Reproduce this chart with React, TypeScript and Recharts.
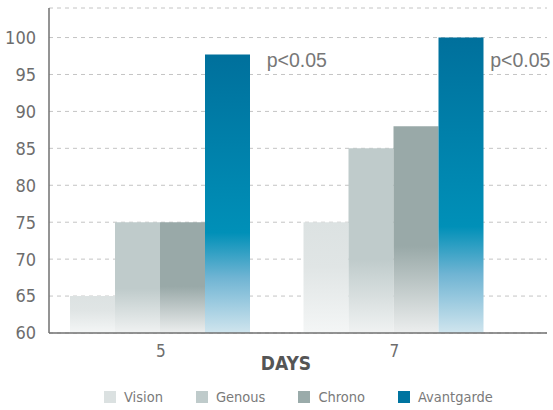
import React from 'react';
import {
  BarChart,
  Bar,
  XAxis,
  YAxis,
  CartesianGrid,
  Legend,
  ReferenceDot
} from 'recharts';

const days = ['5', '7'];
const vision = [65, 75];
const genous = [75, 85];
const chrono = [75, 88];
const avantgarde = [97.7, 100];
const yTicks = [60, 65, 70, 75, 80, 85, 90, 95, 100];
const sigDays = ['5', '7'];
const sigLevel = 97;
const sigText = 'p<0.05';

const chartData = days.map((day, i) => ({
  day,
  Vision: vision[i],
  Genous: genous[i],
  Chrono: chrono[i],
  Avantgarde: avantgarde[i]
}));

const NARROW = "'DejaVu Sans Condensed', 'Liberation Sans Narrow', 'Liberation Sans', sans-serif";
const REGULAR = "'Liberation Sans', Arial, sans-serif";

const series = [
  { key: 'Vision', grad: 'gradVision', swatch: '#dbe1e1' },
  { key: 'Genous', grad: 'gradGenous', swatch: '#bfcbcb' },
  { key: 'Chrono', grad: 'gradChrono', swatch: '#9aabaa' },
  { key: 'Avantgarde', grad: 'gradAvant', swatch: '#0074a0' }
];

const LegendContent = () => (
  <div style={{ display: 'flex', alignItems: 'center', fontFamily: NARROW, fontSize: 14.5, color: '#7a7a7a' }}>
    {series.map((s) => (
      <div key={s.key} style={{ display: 'flex', alignItems: 'center', marginRight: 33 }}>
        <span style={{ width: 12, height: 12, background: s.swatch, marginRight: 8, display: 'inline-block' }} />
        <span>{s.key}</span>
      </div>
    ))}
  </div>
);

export default function App() {
  return (
    <div style={{ position: 'absolute', left: 0, top: 0, width: 553, height: 410 }}>
      <BarChart
        width={553}
        height={410}
        data={chartData}
        margin={{ top: 8, right: 6, left: 0, bottom: 0 }}
        barCategoryGap={26}
        barGap={0}
      >
        <defs>
          <linearGradient id="gradVision" x1="0" y1="0" x2="0" y2="1">
            <stop offset="0" stopColor="#dce2e2" />
            <stop offset="0.4" stopColor="#e0e5e5" />
            <stop offset="1" stopColor="#f4f6f6" />
          </linearGradient>
          <linearGradient id="gradGenous" x1="0" y1="0" x2="0" y2="1">
            <stop offset="0" stopColor="#bfcbcb" />
            <stop offset="0.6" stopColor="#bfcbcb" />
            <stop offset="1" stopColor="#f0f2f2" />
          </linearGradient>
          <linearGradient id="gradChrono" x1="0" y1="0" x2="0" y2="1">
            <stop offset="0" stopColor="#99a9a8" />
            <stop offset="0.58" stopColor="#99a9a8" />
            <stop offset="1" stopColor="#eceeee" />
          </linearGradient>
          <linearGradient id="gradAvant" x1="0" y1="0" x2="0" y2="1">
            <stop offset="0" stopColor="#00709c" />
            <stop offset="0.64" stopColor="#0090b8" />
            <stop offset="0.8" stopColor="#6fb4d3" />
            <stop offset="1" stopColor="#d0e5ee" />
          </linearGradient>
        </defs>
        <CartesianGrid vertical={false} stroke="#c4c4c4" strokeDasharray="4 4" />
        <XAxis
          dataKey="day"
          height={77}
          padding={{ left: -5, right: 36 }}
          tickLine={false}
          tickSize={0}
          tickMargin={12}
          axisLine={{ stroke: '#707070', strokeWidth: 1.5 }}
          tick={{ fill: '#6d6d6d', fontSize: 17, fontFamily: NARROW }}
          label={{
            value: 'DAYS',
            position: 'insideBottom',
            offset: 40,
            dx: -12,
            fill: '#555',
            fontSize: 19,
            fontWeight: 'bold',
            fontFamily: NARROW
          }}
        />
        <YAxis
          width={49}
          domain={[60, 104]}
          ticks={yTicks}
          allowDataOverflow
          tickLine={false}
          tickSize={0}
          tickMargin={13}
          axisLine={{ stroke: '#707070', strokeWidth: 1.5 }}
          tick={{ fill: '#6d6d6d', fontSize: 18, fontFamily: NARROW }}
        />
        {series.map((s) => (
          <Bar key={s.key} dataKey={s.key} fill={`url(#${s.grad})`} isAnimationActive={false} />
        ))}
        {sigDays.map((d, i) => (
          <ReferenceDot
            key={d}
            x={d}
            y={sigLevel}
            r={0}
            ifOverflow="visible"
            label={{
              value: sigText,
              position: 'right',
              offset: i === 0 ? 106 : 96,
              fill: '#777',
              fontSize: 19.5,
              fontFamily: REGULAR
            }}
          />
        ))}
        <Legend
          verticalAlign="middle"
          layout="horizontal"
          wrapperStyle={{ top: 389, left: 104, width: 449, height: 18 }}
          content={<LegendContent />}
        />
      </BarChart>
    </div>
  );
}
